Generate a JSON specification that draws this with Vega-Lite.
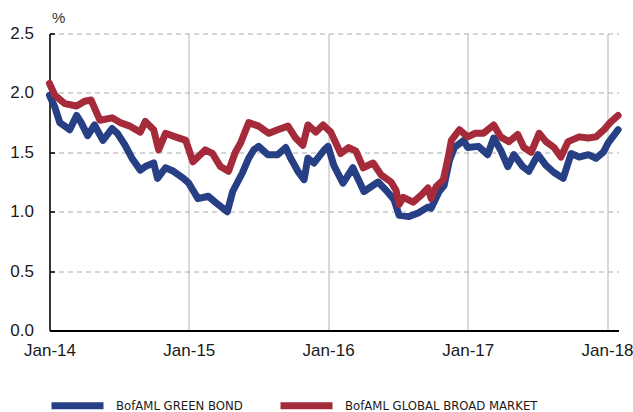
{
  "$schema": "https://vega.github.io/schema/vega-lite/v6.json",
  "autosize": {"type": "none"},
  "width": 569,
  "height": 297,
  "padding": {"left": 49.5, "top": 33.5, "right": 14.5, "bottom": 81.5},
  "background": "white",
  "config": {
    "view": {"stroke": null},
    "font": "Liberation Sans"
  },
  "datasets": {
    "green": [
      {"date": "2014-01-01", "value": 1.98}, {"date": "2014-01-08", "value": 1.93}, {"date": "2014-01-15", "value": 1.88},
      {"date": "2014-01-28", "value": 1.75}, {"date": "2014-02-10", "value": 1.72}, {"date": "2014-02-23", "value": 1.69},
      {"date": "2014-03-13", "value": 1.81}, {"date": "2014-03-25", "value": 1.75}, {"date": "2014-04-11", "value": 1.64},
      {"date": "2014-04-29", "value": 1.73}, {"date": "2014-05-21", "value": 1.60}, {"date": "2014-06-14", "value": 1.70},
      {"date": "2014-06-28", "value": 1.66}, {"date": "2014-07-18", "value": 1.56}, {"date": "2014-08-05", "value": 1.45},
      {"date": "2014-08-27", "value": 1.35}, {"date": "2014-09-09", "value": 1.38}, {"date": "2014-10-01", "value": 1.41},
      {"date": "2014-10-11", "value": 1.28}, {"date": "2014-11-01", "value": 1.37}, {"date": "2014-11-22", "value": 1.34},
      {"date": "2014-12-18", "value": 1.28}, {"date": "2015-01-01", "value": 1.24}, {"date": "2015-01-12", "value": 1.18},
      {"date": "2015-01-25", "value": 1.11}, {"date": "2015-02-21", "value": 1.13}, {"date": "2015-03-19", "value": 1.06},
      {"date": "2015-04-12", "value": 1.00}, {"date": "2015-04-26", "value": 1.17}, {"date": "2015-05-09", "value": 1.25},
      {"date": "2015-05-22", "value": 1.33}, {"date": "2015-06-07", "value": 1.45}, {"date": "2015-06-20", "value": 1.52},
      {"date": "2015-07-03", "value": 1.55}, {"date": "2015-07-27", "value": 1.48}, {"date": "2015-08-22", "value": 1.48},
      {"date": "2015-09-12", "value": 1.54}, {"date": "2015-09-25", "value": 1.45}, {"date": "2015-10-14", "value": 1.34},
      {"date": "2015-10-30", "value": 1.27}, {"date": "2015-11-09", "value": 1.45}, {"date": "2015-11-25", "value": 1.41},
      {"date": "2015-12-22", "value": 1.52}, {"date": "2016-01-01", "value": 1.55}, {"date": "2016-01-16", "value": 1.39},
      {"date": "2016-02-09", "value": 1.24}, {"date": "2016-03-06", "value": 1.37}, {"date": "2016-04-04", "value": 1.17},
      {"date": "2016-05-11", "value": 1.25}, {"date": "2016-06-01", "value": 1.18}, {"date": "2016-06-22", "value": 1.10},
      {"date": "2016-07-05", "value": 0.97}, {"date": "2016-07-31", "value": 0.96}, {"date": "2016-08-24", "value": 0.99},
      {"date": "2016-09-19", "value": 1.04}, {"date": "2016-09-27", "value": 1.03}, {"date": "2016-10-18", "value": 1.17},
      {"date": "2016-10-31", "value": 1.22}, {"date": "2016-11-14", "value": 1.43}, {"date": "2016-11-27", "value": 1.54},
      {"date": "2016-12-21", "value": 1.60}, {"date": "2017-01-01", "value": 1.54}, {"date": "2017-01-29", "value": 1.55},
      {"date": "2017-02-22", "value": 1.48}, {"date": "2017-03-10", "value": 1.62}, {"date": "2017-03-28", "value": 1.52},
      {"date": "2017-04-16", "value": 1.38}, {"date": "2017-05-02", "value": 1.48}, {"date": "2017-05-25", "value": 1.38},
      {"date": "2017-06-10", "value": 1.34}, {"date": "2017-07-04", "value": 1.48}, {"date": "2017-07-25", "value": 1.39},
      {"date": "2017-08-15", "value": 1.33}, {"date": "2017-09-08", "value": 1.28}, {"date": "2017-09-29", "value": 1.49},
      {"date": "2017-10-20", "value": 1.46}, {"date": "2017-11-13", "value": 1.48}, {"date": "2017-12-03", "value": 1.45},
      {"date": "2017-12-22", "value": 1.50}, {"date": "2018-01-04", "value": 1.58}, {"date": "2018-01-30", "value": 1.69}
    ],
    "broad": [
      {"date": "2014-01-01", "value": 2.08}, {"date": "2014-01-15", "value": 1.98}, {"date": "2014-02-10", "value": 1.91},
      {"date": "2014-03-13", "value": 1.89}, {"date": "2014-04-03", "value": 1.93}, {"date": "2014-04-20", "value": 1.94},
      {"date": "2014-05-13", "value": 1.77}, {"date": "2014-06-14", "value": 1.79}, {"date": "2014-07-05", "value": 1.75},
      {"date": "2014-07-31", "value": 1.72}, {"date": "2014-08-27", "value": 1.67}, {"date": "2014-09-09", "value": 1.76},
      {"date": "2014-10-01", "value": 1.69}, {"date": "2014-10-14", "value": 1.52}, {"date": "2014-11-01", "value": 1.66},
      {"date": "2014-11-27", "value": 1.63}, {"date": "2014-12-24", "value": 1.60}, {"date": "2015-01-12", "value": 1.42},
      {"date": "2015-02-13", "value": 1.52}, {"date": "2015-03-04", "value": 1.49}, {"date": "2015-03-25", "value": 1.38},
      {"date": "2015-04-15", "value": 1.34}, {"date": "2015-05-03", "value": 1.50}, {"date": "2015-05-17", "value": 1.58},
      {"date": "2015-06-07", "value": 1.75}, {"date": "2015-07-03", "value": 1.72}, {"date": "2015-07-30", "value": 1.66},
      {"date": "2015-08-22", "value": 1.69}, {"date": "2015-09-18", "value": 1.72}, {"date": "2015-10-08", "value": 1.62},
      {"date": "2015-10-27", "value": 1.56}, {"date": "2015-11-09", "value": 1.73}, {"date": "2015-11-30", "value": 1.67},
      {"date": "2015-12-19", "value": 1.73}, {"date": "2016-01-08", "value": 1.67}, {"date": "2016-02-03", "value": 1.49},
      {"date": "2016-02-24", "value": 1.54}, {"date": "2016-03-14", "value": 1.51}, {"date": "2016-04-02", "value": 1.37},
      {"date": "2016-04-28", "value": 1.41}, {"date": "2016-05-19", "value": 1.31}, {"date": "2016-06-14", "value": 1.25},
      {"date": "2016-06-27", "value": 1.18}, {"date": "2016-07-05", "value": 1.06}, {"date": "2016-07-16", "value": 1.12},
      {"date": "2016-08-11", "value": 1.08}, {"date": "2016-09-01", "value": 1.14}, {"date": "2016-09-19", "value": 1.20},
      {"date": "2016-09-27", "value": 1.11}, {"date": "2016-10-10", "value": 1.21}, {"date": "2016-10-29", "value": 1.27},
      {"date": "2016-11-11", "value": 1.46}, {"date": "2016-11-19", "value": 1.60}, {"date": "2016-12-10", "value": 1.69},
      {"date": "2017-01-01", "value": 1.63}, {"date": "2017-01-21", "value": 1.66}, {"date": "2017-02-11", "value": 1.66},
      {"date": "2017-03-10", "value": 1.73}, {"date": "2017-03-28", "value": 1.63}, {"date": "2017-04-19", "value": 1.59},
      {"date": "2017-05-12", "value": 1.65}, {"date": "2017-05-28", "value": 1.54}, {"date": "2017-06-16", "value": 1.50},
      {"date": "2017-07-07", "value": 1.66}, {"date": "2017-07-25", "value": 1.59}, {"date": "2017-08-15", "value": 1.54},
      {"date": "2017-09-02", "value": 1.46}, {"date": "2017-09-21", "value": 1.59}, {"date": "2017-10-20", "value": 1.63},
      {"date": "2017-11-13", "value": 1.62}, {"date": "2017-12-03", "value": 1.63}, {"date": "2017-12-24", "value": 1.69},
      {"date": "2018-01-09", "value": 1.75}, {"date": "2018-01-30", "value": 1.81}
    ]
  },
  "layer": [
    {
      "data": {"name": "green"},
      "transform": [{"calculate": "'BofAML GREEN BOND'", "as": "series"}],
      "mark": {"type": "line", "strokeWidth": 7, "strokeJoin": "round", "strokeCap": "round"},
      "encoding": {
        "x": {
          "field": "date", "type": "temporal",
          "scale": {"type": "utc", "domain": [{"year": 2014, "month": 1, "date": 1, "utc": true}, {"year": 2018, "month": 1, "date": 31, "utc": true}]},
          "axis": {
            "title": null,
            "format": "%b-%y",
            "values": [
              {"year": 2014, "month": 1, "date": 1, "utc": true},
              {"year": 2015, "month": 1, "date": 1, "utc": true},
              {"year": 2016, "month": 1, "date": 1, "utc": true},
              {"year": 2017, "month": 1, "date": 1, "utc": true},
              {"year": 2018, "month": 1, "date": 1, "utc": true}
            ],
            "grid": true, "gridColor": "#b5b5b5", "gridWidth": 1,
            "domainColor": "#000000", "domainWidth": 2,
            "ticks": false, "labelPadding": 12,
            "labelFlush": false,
            "labelFont": "Liberation Sans", "labelFontSize": 17, "labelColor": "#1a1a1a"
          }
        },
        "y": {
          "field": "value", "type": "quantitative",
          "scale": {"domain": [0, 2.5], "nice": false, "zero": true},
          "axis": {
            "title": "%", "titleAngle": 0, "titleAlign": "left", "titleBaseline": "middle",
            "titleX": 2, "titleY": -16, "titleFontSize": 15, "titleFontWeight": "normal", "titleColor": "#333333", "titleFont": "Liberation Sans",
            "values": [0, 0.5, 1, 1.5, 2, 2.5], "format": ".1f",
            "grid": true, "gridColor": "#aaaaaa", "gridDash": [5, 4], "gridWidth": 1,
            "domainColor": "#000000", "domainWidth": 1.5,
            "ticks": true, "tickSize": -5, "tickColor": "#000000", "tickWidth": 1.5, "labelPadding": 21,
            "labelFont": "Liberation Sans", "labelFontSize": 17, "labelColor": "#1a1a1a"
          }
        },
        "color": {
          "field": "series", "type": "nominal",
          "scale": {"domain": ["BofAML GREEN BOND", "BofAML GLOBAL BROAD MARKET"], "range": ["#263f85", "#a52a3a"]},
          "legend": {
            "title": null, "orient": "none", "direction": "horizontal",
            "legendX": -1.5, "legendY": 342.5,
            "symbolType": "stroke", "symbolSize": 2704, "symbolStrokeWidth": 7,
            "labelFont": "'Liberation Sans Narrow', 'DejaVu Sans Condensed', 'Liberation Sans', sans-serif",
            "labelFontSize": 13, "labelColor": "#1a1a1a", "labelOffset": 9, "columnPadding": 23, "labelLimit": 400
          }
        }
      }
    },
    {
      "data": {"name": "broad"},
      "transform": [{"calculate": "'BofAML GLOBAL BROAD MARKET'", "as": "series"}],
      "mark": {"type": "line", "strokeWidth": 7, "strokeJoin": "round", "strokeCap": "round"},
      "encoding": {
        "x": {"field": "date", "type": "temporal"},
        "y": {"field": "value", "type": "quantitative"},
        "color": {"field": "series", "type": "nominal"}
      }
    }
  ]
}
